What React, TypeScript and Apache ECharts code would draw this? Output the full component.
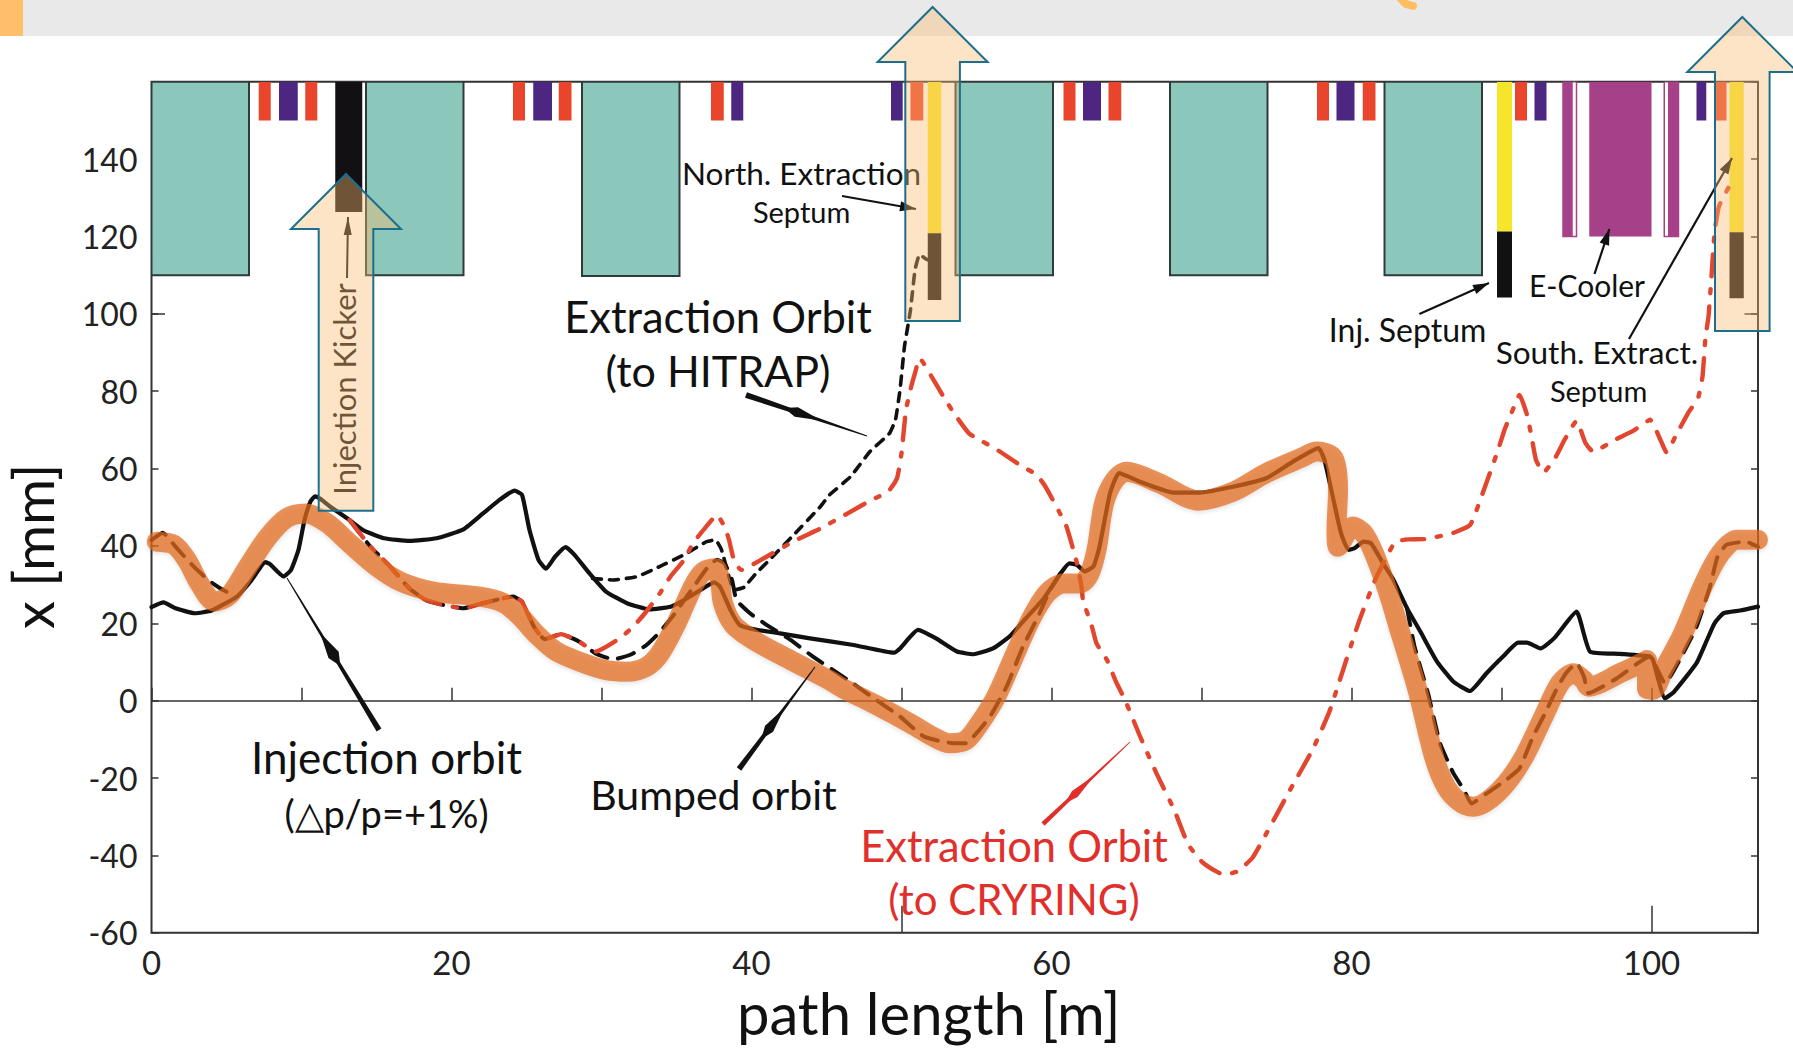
import React, { useEffect, useRef } from "react";
import * as echarts from "echarts";

const FONT = '"Comic Sans MS", Lato, "Noto Sans", sans-serif';

const xTickLabels = [0, 20, 40, 60, 80, 100];
const yTickLabels = [-60, -40, -20, 0, 20, 40, 60, 80, 100, 120, 140];
const longXTicks = [50, 100];

const injectionOrbit = [[0,24.2],[0.8,25.4],[1.6,23.9],[2.9,22.6],[4,23.3],[5.7,26.9],[6.6,30.8],[7.6,35.8],[7.9,35.3],[8.8,32.1],[9.3,33.8],[9.8,39],[10.2,46.7],[10.6,51.5],[10.9,52.8],[11.2,52.3],[11.9,50.2],[13.2,46.7],[14.1,44.1],[15.5,42],[17.2,41.3],[19,42],[20.8,44.3],[22.1,48.4],[23.2,51.9],[24.2,54.3],[24.7,53.2],[25.2,44.1],[25.8,36.4],[26.3,34.1],[26.9,37.2],[27.6,39.7],[28.2,37.7],[29.2,32.9],[30.3,28.2],[31.7,25.2],[33.2,23.6],[34.6,24.3],[35.5,26],[36.6,28.6],[37.5,30.6],[37.9,29.5],[38.6,23.4],[39.2,19.6],[40.1,18.5],[41.9,17.4],[43.9,16.1],[46.8,14.4],[49.5,12.4],[49.9,13.5],[51.1,18.3],[52.3,16.1],[53.7,12.7],[54.8,12],[56.1,13.5],[57.2,16.6],[58.3,21.3],[59.5,26.5],[60.6,32.9],[61.2,35.5],[61.7,35.1],[62.2,33.4],[62.8,34.7],[63.2,39.8],[63.9,53.6],[64.5,58.8],[65.9,56.6],[68.1,53.8],[69.9,53.8],[72.1,55.3],[74.3,57.5],[76.1,61.8],[77.8,65.3],[78.2,62.2],[78.8,51.9],[79.3,43.3],[79.8,39],[80.2,39.4],[80.8,41.1],[81.3,40.7],[82.1,35.5],[82.8,31.2],[83.7,23.9],[84.6,17.8],[85.7,10.1],[86.8,4.9],[87.9,2.5],[89,7.1],[90.1,11.4],[91.1,15],[91.7,15],[92.6,13.5],[93.5,16.1],[95,23],[95.9,12.7],[97.9,12.1],[99.9,11.4],[100.1,10.5],[100.9,0.6],[101.5,2.3],[103,9.7],[103.7,15.7],[104.2,20],[104.8,22.6],[105.9,23.3],[107.1,24.3]];

const bumpedStart = [[0,41.5],[0.75,43.4],[1.6,39.8],[2.8,34.7],[3.9,30.8],[4.6,29],[5.6,26.9]];
const bumpedMiddle = [[13.2,46.7],[14.6,39.8],[15.9,34.7],[17.2,29],[18.3,26],[19.5,24.7],[20.8,23.9],[22.1,25.2],[24.1,26.9],[24.7,25.6],[25.5,19.1],[26.2,15.9],[27.3,17.2],[28.5,15.3],[29.6,12.2],[30.8,10.7],[32,12],[33,14.4],[33.9,17.8],[34.9,22.6],[36.3,30.3],[37.2,35.1],[37.7,36.4],[38.2,35.5],[38.7,31.2],[39,26],[39.9,22.6],[41,19.6],[42.6,15.7],[44.1,11.4],[46.6,4.9],[48.3,0.2],[49.9,-4.1],[51.5,-9.3],[53.5,-11],[54.3,-11],[55,-8.4],[55.9,-4.1],[57,3.6],[58.1,14],[59.1,21.7],[59.9,28.6],[60.6,32.9]];
const bumpedEnd = [[83.7,23.9],[84.2,14],[85.1,1.9],[85.9,-11],[86.8,-18.8],[87.5,-23.1],[88,-26.6],[89,-24],[90.3,-20.5],[91.2,-17.5],[92.1,-9.3],[92.9,-3.3],[93.7,3.2],[94.3,7.1],[95,9.7],[95.5,6.2],[95.8,1.9],[97.7,5.8],[99.9,11.4],[100.1,10.5],[100.9,4.5],[102.1,12.2],[103,19.1],[103.9,29.5],[104.4,37.2],[105,40.3],[106.3,41.1],[107.1,39.8]];

const hitrapOrbit = [[29.4,31.6],[30.8,31.2],[32.4,32.1],[33.9,34.7],[35.5,37.7],[37,41.1],[37.6,41.6],[38,39],[38.5,32],[38.8,28.6],[39.5,29.3],[40.3,32.9],[41.2,36.4],[42.8,42.8],[44.6,50.2],[45.2,53.2],[46.6,57.9],[47.9,64.4],[49.2,69.1],[49.6,72.6],[49.9,80.3],[50.2,91.6],[50.6,101],[50.9,111.4],[51.2,115.3],[51.7,114]];

const cryringOrbit = [[13.2,46.7],[14.6,39.8],[15.9,34.7],[17.2,29],[18.3,26],[19.5,24.7],[20.8,23.9],[22.1,25.2],[24.1,26.9],[24.7,25.6],[25.5,19.1],[26.2,15.9],[27.3,17.2],[28.5,15.3],[29.6,12.7],[31.2,16.1],[32.1,19.1],[32.9,22.6],[33.9,27.8],[34.6,32.1],[35.5,36.4],[36.1,40.7],[36.9,44.6],[37.7,48],[38.2,45],[38.5,41.6],[38.8,36.8],[39.3,33.8],[40.9,37],[42.9,41.4],[44.5,44.3],[46.5,48.6],[48,51.9],[49.1,54],[49.7,57.5],[50,64],[50.3,75.2],[50.7,82],[50.9,84.7],[51.2,88.5],[52.2,82.5],[52.8,78.6],[53.5,74.3],[54.5,69.1],[55.4,67],[56.4,64.8],[57.9,60.9],[59,58.4],[59.6,55.3],[60.5,48.9],[61,45],[61.7,35.5],[62,29.5],[62.1,26],[62.7,19.1],[63,14.8],[63.7,10.5],[64.3,4.9],[64.9,0.2],[65.9,-9.2],[67,-18.8],[68.2,-28.4],[69.1,-37.1],[70.1,-41.9],[71.5,-45],[72.4,-44.1],[73.4,-40.6],[74.3,-34.5],[75.9,-23.1],[77.4,-12.7],[78.5,-3.1],[79.1,3.9],[80.5,20.5],[81.6,31.4],[82.9,41],[83.8,41.7],[85,41.8],[86.8,43.4],[87.9,45.4],[88.3,48.9],[88.9,55.3],[89.7,64],[90.2,70],[90.7,74.7],[91.2,79],[91.7,73.9],[92,68.3],[92.3,62.2],[92.8,59],[93.6,62.9],[94.2,67.4],[95,72.3],[95.6,66.6],[96.1,64.4],[97.7,67.7],[98.8,69.8],[99.9,72.6],[100.6,67.4],[101,64.2],[101.7,69.1],[102.5,74.7],[103.1,78.2],[103.4,83.8],[103.6,94],[103.8,99.3],[104,109.7],[104.2,120.9],[104.5,127.8],[105.3,133.8]];

const highlightBand = [[0.35,41.1],[1.5,40.3],[2.35,36.4],[3.2,30.3],[4.2,25.6],[5.2,27.3],[6.3,33.8],[7.7,42],[9,47.2],[10.3,48.4],[11.7,45.9],[13.2,40.7],[15,34.7],[16.6,30.8],[18.8,28.2],[21.9,26.9],[23.5,25.2],[24.6,21.7],[25.7,17],[27,12.7],[28.8,9.7],[30.3,7.9],[31.7,7.5],[33,8.8],[33.9,12.2],[35,20],[36.1,29.5],[36.8,33.4],[37.6,34.2],[37.9,31.2],[38.1,25.2],[38.8,19.6],[40.3,15.3],[42.6,10.5],[45.2,5.3],[46.1,3.2],[48.3,-1.1],[50.6,-5.9],[52.1,-9.3],[53.2,-11],[54.3,-10.2],[55.2,-5.9],[56.3,1],[57.5,11.4],[58.6,20.9],[59.7,27.8],[60.8,30.3],[61.9,30.3],[62.5,32.5],[63,39],[63.5,51],[64.2,57],[65,59.2],[67.2,56.2],[69.8,51.7],[72.1,54],[74.3,58.8],[76.6,62.7],[77.7,64.4],[78.8,62.7],[79.1,54.5],[79,44],[79.1,39.8],[80.1,45],[80.8,43.3],[81.5,38.1],[82.4,28.6],[83.2,18.3],[84.4,2.8],[85.5,-14.5],[86.3,-22.2],[87.2,-26.1],[88.1,-27.4],[89,-26.1],[90.3,-21.4],[91.5,-14.5],[92.8,-4.1],[93.9,4.5],[94.8,7.1],[95.5,5.3],[95.8,3.6],[97.9,7.1],[99.7,10.5],[99.7,3.2],[100.1,2.8],[100.8,7.9],[102.1,17.4],[103.5,30.3],[104.6,38.1],[105.7,41.6],[107.1,41.6]];

// lattice elements: [x0, x1, y0, y1]
const dipoles = [[0,6.5,110,160],[14.3,20.8,110,160],[28.7,35.2,109.8,160],[53.6,60.1,110,160],[67.9,74.4,110,160],[82.2,88.7,110,160]];
const redQuads = [[7.15,7.95,150,160],[10.25,11.05,150,160],[24.1,24.9,150,160],[27.15,28,150,160],[37.3,38.15,150,160],[50.6,51.45,150,160],[60.8,61.6,150,160],[63.8,64.65,150,160],[77.7,78.5,150,160],[80.75,81.6,150,160],[90.9,91.7,150,160],[104.2,105,150,160]];
const purpleQuads = [[8.5,9.75,150,160],[25.45,26.7,150,160],[38.65,39.45,150,160],[49.3,50.08,150,160],[62.1,63.3,150,160],[79,80.2,150,160],[92.2,93,150,160],[103,103.65,150,160]];
const kicker = [[12.25,14.05,126.3,160]];
const septumYellow = [[51.75,52.65,120.8,160],[89.7,90.7,121.3,160],[105.2,106.15,121.1,160]];
const septumBlack = [[51.75,52.65,103.6,120.8],[89.7,90.7,104.2,121.3],[105.2,106.15,104,121.1]];
const coolerFrames = [[94.1,95,120,160],[100.85,101.8,120,160]];
const coolerBlocks = [[94.1,94.75,120,160],[95.85,100,120,160],[101.1,101.8,120,160]];

const rectSeries = (name: string, data: number[][], fill: string, stroke: string, lineWidth: number, z = 1) => ({
  type: "custom", name, z, silent: true, clip: true, data,
  encode: { x: [0, 1], y: [2, 3] },
  renderItem: (_p: any, api: any) => {
    const a = api.coord([api.value(0), api.value(3)]);
    const b = api.coord([api.value(1), api.value(2)]);
    return { type: "rect", shape: { x: a[0], y: a[1], width: b[0] - a[0], height: b[1] - a[1] }, style: { fill, stroke, lineWidth } };
  },
});

const lineSeries = (name: string, data: number[][], color: string, width: number, type: any, smooth: number, z: number, extra: any = {}) => ({
  type: "line", name, data, z, smooth, symbol: "none", silent: true, animation: false,
  lineStyle: { color, width, type, cap: "round", join: "round", ...extra },
});

const text = (t: string, x: number, y: number, size: number, fill = "#111", rotation = 0) => ({
  type: "text", z: 50, x, y, rotation, silent: true,
  style: { text: t, fill, font: `${size}px ${FONT}`, align: "center", verticalAlign: "middle" },
});

const pointer = (from: number[], to: number[], w0: number, w1: number, at: number, len: number, hw: number, color: string) => {
  const dx = to[0] - from[0], dy = to[1] - from[1], L = Math.hypot(dx, dy);
  const d = [dx / L, dy / L], n = [-d[1], d[0]];
  const ap = [from[0] + dx * at, from[1] + dy * at];
  const b = [ap[0] - d[0] * len, ap[1] - d[1] * len];
  const backF = at === 1 ? 0 : 0.5;
  const back = [b[0] - d[0] * len * backF, b[1] - d[1] * len * backF];
  return [
    { type: "polygon", z: 50, silent: true, shape: { points: [
      [from[0] + n[0] * w0 / 2, from[1] + n[1] * w0 / 2], [to[0] + n[0] * w1 / 2, to[1] + n[1] * w1 / 2],
      [to[0] - n[0] * w1 / 2, to[1] - n[1] * w1 / 2], [from[0] - n[0] * w0 / 2, from[1] - n[1] * w0 / 2]] }, style: { fill: color } },
    { type: "polygon", z: 50, silent: true, shape: { points: [ap, [b[0] + n[0] * hw / 2, b[1] + n[1] * hw / 2], back, [b[0] - n[0] * hw / 2, b[1] - n[1] * hw / 2]] }, style: { fill: color } },
  ];
};

const blockArrow = (cx: number, apex: number, shoulder: number, bottom: number, shaft: number, head: number) => ({
  type: "polygon", z: 60, silent: true,
  shape: { points: [[cx, apex], [cx + head, shoulder], [cx + shaft, shoulder], [cx + shaft, bottom], [cx - shaft, bottom], [cx - shaft, shoulder], [cx - head, shoulder]] },
  style: { fill: "rgba(250,187,112,0.4)", stroke: "#1c6f8c", lineWidth: 2 },
});

export default function App() {
  const ref = useRef<HTMLDivElement>(null);
  useEffect(() => {
    document.body.style.margin = "0";
    const chart = echarts.init(ref.current!, undefined, { renderer: "svg" });
    const black = "#111";
    const red = "#e2462e";
    const markSegs = [
      ...longXTicks.map((v) => [{ coord: [v, -60] }, { coord: [v, -53] }]),
      [{ coord: [0, 100] }, { coord: [0.9, 100] }],
      [{ coord: [106.2, 100] }, { coord: [107.1, 100] }],
    ];
    chart.setOption({
      animation: false,
      backgroundColor: "#fff",
      grid: { left: 151.5, right: 35, top: 81.7, bottom: 116.2, outerBoundsMode: "none", show: true, borderColor: "#333", borderWidth: 2, backgroundColor: "transparent" },
      xAxis: {
        type: "value", min: 0, max: 107.1, interval: 10,
        name: "path length [m]", nameLocation: "middle", nameGap: 54,
        nameTextStyle: { fontFamily: FONT, fontSize: 58, lineHeight: 50, color: "#111", padding: [0, 52, 0, 0] },
        axisLine: { show: false },
        axisTick: { show: true, inside: true, length: 13, lineStyle: { color: "#333", width: 1.5 } },
        splitLine: { show: false },
        axisLabel: {
          fontFamily: FONT, fontSize: 33, color: "#222", margin: 13, showMaxLabel: false,
          formatter: (v: number) => (xTickLabels.includes(v) ? String(v) : ""),
        },
      },
      yAxis: [
        {
          type: "value", min: -60, max: 160, interval: 20,
          name: "x [mm]", nameLocation: "middle", nameGap: 91, nameRotate: 90,
          nameTextStyle: { fontFamily: FONT, fontSize: 56, color: "#111", padding: [0, 78, 0, 0] },
          axisLine: { show: false },
          axisTick: { show: true, inside: true, length: 7, lineStyle: { color: "#333", width: 1.5 } },
          splitLine: { show: false },
          axisLabel: {
            fontFamily: FONT, fontSize: 32, color: "#222", margin: 14,
            formatter: (v: number) => (yTickLabels.includes(v) ? String(v) : ""),
          },
        },
        {
          type: "value", position: "right", min: -60, max: 160, interval: 20,
          axisLine: { show: false },
          axisTick: { show: true, inside: true, length: 7, lineStyle: { color: "#333", width: 1.5 } },
          splitLine: { show: false },
          axisLabel: { show: false },
        },
      ],
      series: [
        rectSeries("Dipoles", dipoles, "#8cc7bb", "#2e3b3a", 2),
        rectSeries("Defocusing quads", redQuads, "#e8452c", "none", 0),
        rectSeries("Focusing quads", purpleQuads, "#4c2680", "none", 0),
        rectSeries("Injection kicker", kicker, "#131013", "none", 0),
        rectSeries("Septum", septumYellow, "#f7e52c", "none", 0),
        rectSeries("Septum core", septumBlack, "#131013", "none", 0),
        rectSeries("E-Cooler frame", coolerFrames, "#fff", "#a64088", 1.5),
        rectSeries("E-Cooler", coolerBlocks, "#a64088", "none", 0),
        {
          ...lineSeries("Injection orbit", injectionOrbit, black, 4.2, "solid", 0.15, 3),
          markLine: {
            silent: true, symbol: "none", animation: false, label: { show: false },
            lineStyle: { color: "#333", width: 1.5, type: "solid" },
            data: [[{ coord: [0, 0] }, { coord: [107.1, 0] }], ...markSegs],
          },
        },
        lineSeries("Bumped orbit start", bumpedStart, black, 4, [17, 11], 0.15, 4),
        lineSeries("Bumped orbit", bumpedMiddle, black, 4, [17, 11], 0.15, 4),
        lineSeries("Bumped orbit end", bumpedEnd, black, 4, [17, 11], 0.15, 4),
        lineSeries("Extraction orbit to HITRAP", hitrapOrbit, black, 3.6, [9, 8], 0.1, 4),
        lineSeries("Extraction orbit to CRYRING", cryringOrbit, red, 4.4, [22, 13, 4, 13], 0.15, 5),
        lineSeries("Highlighted bumped orbit", highlightBand, "rgba(225,105,30,0.72)", 20, "solid", 0.3, 6, {
          shadowColor: "rgba(0,0,0,0.15)", shadowBlur: 4, shadowOffsetY: 2,
        }),
      ],
      graphic: { elements: [
        { type: "rect", z: -5, silent: true, shape: { x: 0, y: 0, width: 1793, height: 36 }, style: { fill: "#e9e9e9" } },
        { type: "rect", z: -4, silent: true, shape: { x: 0, y: 0, width: 23, height: 36 }, style: { fill: "#fdbf6a" } },
        { type: "polyline", z: -4, silent: true, shape: { points: [[1400, -2], [1406, 4], [1413, 6]] }, style: { stroke: "#fdbf60", lineWidth: 8, lineCap: "round", fill: "none" } },
        text("Extraction Orbit", 718, 316, 43.5),
        text("(to HITRAP)", 718, 370, 43),
        text("Injection orbit", 386.5, 757, 44),
        text("(△p/p=+1%)", 386.5, 813, 38),
        text("Bumped orbit", 713.5, 794, 41),
        text("Extraction Orbit", 1014, 845, 43.5, "#e1302c"),
        text("(to CRYRING)", 1014, 899, 42, "#e1302c"),
        text("North. Extraction", 801.6, 172.7, 31.5),
        text("Septum", 801.6, 211.5, 29),
        text("Inj. Septum", 1407.6, 329, 32),
        text("E-Cooler", 1587, 285, 30),
        text("South. Extract.", 1597, 352, 31.5),
        text("Septum", 1598.6, 390, 29),
        text("Injection Kicker", 344, 389, 31, "#111", Math.PI / 2),
        ...pointer([379, 730], [287, 578], 5.5, 1, 0.64, 26, 12, "#111"),
        ...pointer([739, 769], [815, 667], 5.5, 1, 0.6, 26, 10, "#111"),
        ...pointer([746, 395], [867, 436], 6, 1, 0.62, 26, 10, "#111"),
        ...pointer([1043, 824], [1130, 742], 4.5, 1, 0.6, 28, 8, "#e1302c"),
        ...pointer([347, 278], [348, 217], 2, 2, 1, 18, 8, "#111"),
        ...pointer([842, 196], [916, 209], 2.2, 2.2, 1, 16, 10, "#111"),
        ...pointer([1419.4, 314], [1489, 283], 2.2, 2.2, 1, 16, 10, "#111"),
        ...pointer([1594.5, 274], [1609.4, 229], 2.2, 2.2, 1, 16, 10, "#111"),
        ...pointer([1629, 339], [1732, 158], 2.2, 2.2, 1, 16, 10, "#111"),
        blockArrow(346, 174, 229, 510.7, 27.3, 55),
        blockArrow(932.6, 7, 62, 321, 27.3, 55),
        blockArrow(1742.3, 17, 72, 331, 27.3, 55),
      ] },
    });
    return () => chart.dispose();
  }, []);
  return <div ref={ref} style={{ position: "absolute", left: 0, top: 0, width: 1793, height: 1049 }} />;
}
